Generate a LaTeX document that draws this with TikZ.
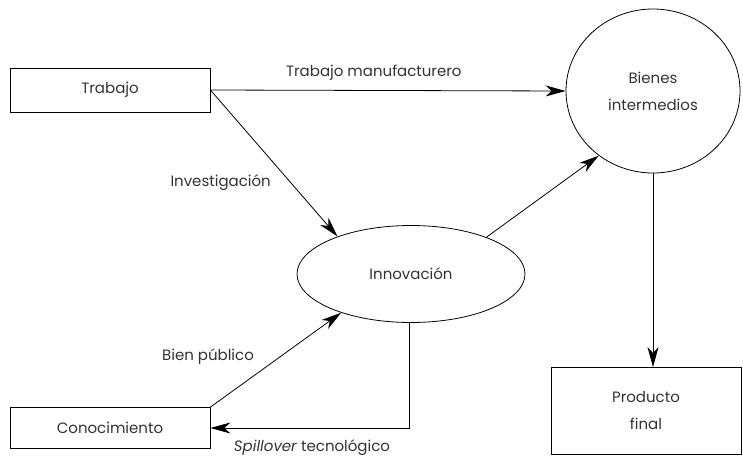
\documentclass[tikz,border=0pt]{standalone}
\usepackage{fontspec}
\setmainfont{Poppins}
\usetikzlibrary{arrows.meta,shapes.geometric}
\begin{document}
\begin{tikzpicture}[x=1pt,y=-1pt,
  txt/.style={text=black!80, font=\fontsize{15}{27}\selectfont},
  boxn/.style={draw, line width=0.8pt, txt, inner sep=0pt, align=center},
  arr/.style={-{Stealth[length=20pt,width=11pt,inset=6pt]}, line width=0.8pt},
  lbl/.style={txt, inner sep=0pt}]
\useasboundingbox (0,0) rectangle (743,460);
\node[boxn, minimum width=200pt, minimum height=44pt] (trab) at (110,90) {Trabajo};
\node[boxn, minimum width=200pt, minimum height=41pt] (cono) at (110,428) {Conocimiento};
\node[boxn, minimum width=190pt, minimum height=87pt] (prod) at (646,411) {Producto\\final};
\node[boxn, ellipse, minimum width=174pt, minimum height=164pt] (bien) at (653,91) {Bienes\\intermedios};
\node[boxn, ellipse, minimum width=228pt, minimum height=97pt] (inno) at (411,274) {Innovación};
\draw[arr] (trab.east) -- node[lbl, above=10pt, pos=0.46] {Trabajo manufacturero} (bien.west);
\draw[arr] (trab.east) -- (inno.153);
\node[lbl, anchor=east] (linv) at (271,183) {Investigación};
\draw[arr] (inno.26) -- (bien.230);
\draw[arr] (bien.south) -- (bien.south |- prod.north);
\draw[arr] (cono.north east) -- (inno.209);
\node[lbl] (lbp) at (208,357) {Bien público};
\draw[arr] (inno.268) |- (cono.east);
\node[lbl] (lsp) at (312,448) {\textit{Spillover} tecnológico};
\end{tikzpicture}
\end{document}
